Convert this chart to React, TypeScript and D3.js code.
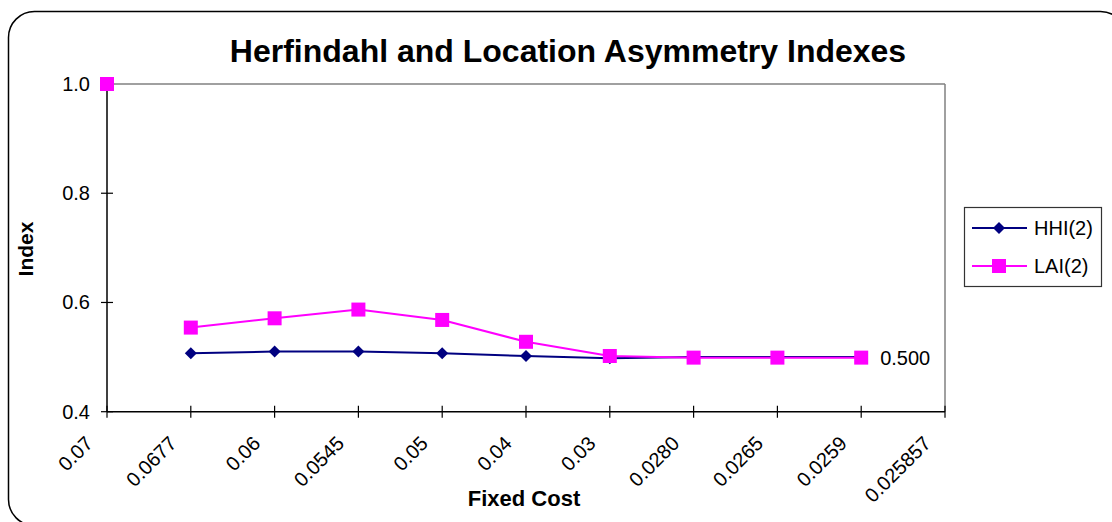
import React from "react";
import * as d3 from "d3";

const categories = ["0.07", "0.0677", "0.06", "0.0545", "0.05", "0.04", "0.03", "0.0280", "0.0265", "0.0259", "0.025857"];
const hhi: (number | null)[] = [null, 0.507, 0.51, 0.51, 0.507, 0.502, 0.498, 0.5, 0.5, 0.5, null];
const lai: (number | null)[] = [1.0, 0.554, 0.571, 0.587, 0.568, 0.528, 0.502, 0.499, 0.499, 0.499, null];
const laiLineFrom = 1;
const yTicks = [0.4, 0.6, 0.8, 1.0];
const dataLabelIndex = 9;
const dataLabelText = "0.500";

const W = 1112;
const H = 522;
const plot = { left: 107, right: 945, top: 84, bottom: 411.7 };
const FONT = "Liberation Sans, Arial, sans-serif";
const NAVY = "#000080";
const PINK = "#FF00FF";

export default function App() {
  const x = d3
    .scalePoint<string>()
    .domain(categories)
    .range([plot.left, plot.right]);
  const y = d3.scaleLinear().domain([0.4, 1.0]).range([plot.bottom, plot.top]);

  const hhiPts = hhi
    .map((v, i) => ({ v, i }))
    .filter((d) => d.v !== null) as { v: number; i: number }[];
  const laiPts = lai
    .map((v, i) => ({ v, i }))
    .filter((d) => d.v !== null) as { v: number; i: number }[];

  const line = d3
    .line<{ v: number; i: number }>()
    .x((d) => x(categories[d.i]) as number)
    .y((d) => y(d.v));

  const diamond = (cx: number, cy: number, r: number) =>
    `M${cx},${cy - r}L${cx + r},${cy}L${cx},${cy + r}L${cx - r},${cy}Z`;

  return (
    <svg
      width={W}
      height={H}
      style={{ position: "absolute", left: 0, top: 0, background: "#fff" }}
      fontFamily={FONT}
    >
      <rect x={0} y={0} width={W} height={H} fill="#fff" />
      <rect
        x={8.5}
        y={11.5}
        width={1118}
        height={514}
        rx={26}
        ry={26}
        fill="none"
        stroke="#000"
        strokeWidth={1.5}
      />
      <text
        x={568}
        y={62}
        textAnchor="middle"
        fontSize={32}
        fontWeight="bold"
        fill="#000"
      >
        Herfindahl and Location Asymmetry Indexes
      </text>

      {/* plot frame */}
      <line x1={plot.left} x2={plot.right} y1={plot.top} y2={plot.top} stroke="#808080" strokeWidth={1.5} />
      <line x1={plot.right} x2={plot.right} y1={plot.top} y2={plot.bottom} stroke="#808080" strokeWidth={1.5} />
      <line x1={plot.left} x2={plot.left} y1={plot.top} y2={plot.bottom} stroke="#000" strokeWidth={1.5} />
      <line x1={plot.left} x2={plot.right} y1={plot.bottom} y2={plot.bottom} stroke="#000" strokeWidth={1.5} />

      {/* y ticks */}
      {yTicks.map((t) => (
        <g key={t}>
          <line x1={plot.left - 6} x2={plot.left + 6} y1={y(t)} y2={y(t)} stroke="#000" strokeWidth={1.2} />
          <text x={plot.left - 17} y={y(t)} dy="0.35em" textAnchor="end" fontSize={20} fill="#000">
            {d3.format(".1f")(t)}
          </text>
        </g>
      ))}

      {/* x ticks */}
      {categories.map((c) => {
        const cx = x(c) as number;
        return (
          <g key={c}>
            <line x1={cx} x2={cx} y1={plot.bottom - 6} y2={plot.bottom + 6} stroke="#000" strokeWidth={1.2} />
            <text
              transform={`translate(${cx - 13},${plot.bottom + 33}) rotate(-45)`}
              textAnchor="end"
              fontSize={20}
              fill="#000"
            >
              {c}
            </text>
          </g>
        );
      })}

      {/* series */}
      <path d={line(hhiPts) || ""} fill="none" stroke={NAVY} strokeWidth={2} />
      <path
        d={line(laiPts.filter((d) => d.i >= laiLineFrom)) || ""}
        fill="none"
        stroke={PINK}
        strokeWidth={2}
      />
      {hhiPts.map((d) => (
        <path key={"h" + d.i} d={diamond(x(categories[d.i]) as number, y(d.v), 6)} fill={NAVY} />
      ))}
      {laiPts.map((d) => (
        <rect
          key={"l" + d.i}
          x={(x(categories[d.i]) as number) - 7}
          y={y(d.v) - 7}
          width={14}
          height={14}
          fill={PINK}
        />
      ))}
      <text
        x={(x(categories[dataLabelIndex]) as number) + 19}
        y={y(lai[dataLabelIndex] as number)}
        dy="0.35em"
        fontSize={20}
        fill="#000"
      >
        {dataLabelText}
      </text>

      {/* axis titles */}
      <text x={524} y={506} textAnchor="middle" fontSize={22} fontWeight="bold" fill="#000">
        Fixed Cost
      </text>
      <text
        transform={`translate(33,249) rotate(-90)`}
        textAnchor="middle"
        fontSize={21}
        fontWeight="bold"
        fill="#000"
      >
        Index
      </text>

      {/* legend */}
      <rect x={964.5} y={207.5} width={137} height={79} fill="#fff" stroke="#333" strokeWidth={1.2} />
      <line x1={972} x2={1027} y1={228} y2={228} stroke={NAVY} strokeWidth={2} />
      <path d={diamond(999, 228, 6)} fill={NAVY} />
      <text x={1034} y={228} dy="0.35em" fontSize={20} fill="#000">
        HHI(2)
      </text>
      <line x1={972} x2={1027} y1={266} y2={266} stroke={PINK} strokeWidth={2} />
      <rect x={992} y={259} width={14} height={14} fill={PINK} />
      <text x={1034} y={266} dy="0.35em" fontSize={20} fill="#000">
        LAI(2)
      </text>
    </svg>
  );
}
